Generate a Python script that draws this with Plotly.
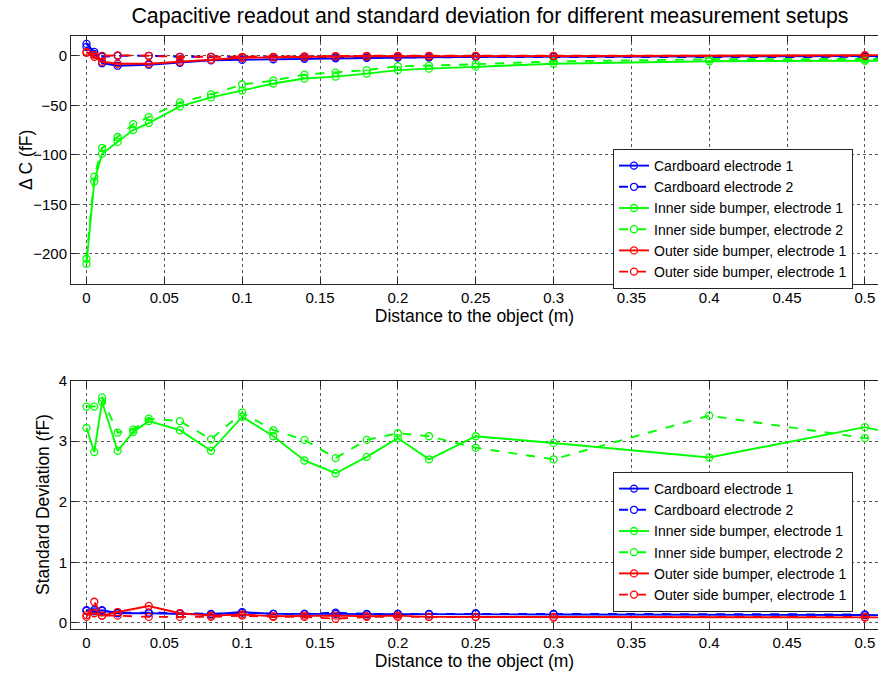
import plotly.graph_objects as go

# Measurement positions (m)
dist_cb = [0, 0.005, 0.01, 0.02, 0.04, 0.06, 0.08, 0.1, 0.12, 0.14, 0.16,
           0.18, 0.2, 0.22, 0.25, 0.3, 0.5, 0.6]
dist_in = [0, 0.005, 0.01, 0.02, 0.03, 0.04, 0.06, 0.08, 0.1, 0.12, 0.14,
           0.16, 0.18, 0.2, 0.22, 0.25, 0.3, 0.4, 0.5, 0.6]

# Capacitive readout change (fF)
dc_card1 = [12, 4, -7.5, -10, -9, -7, -4.5, -4, -3.5, -3, -2.5, -2, -1.5,
            -1.5, -1, -1, -0.5, 0]
dc_card2 = [9, 2, -1, 0, 0, -1, -1, -1.5, -1.5, -1.5, -1.5, -1.5, -1.5,
            -1.5, -1, -1, -1, -1]
dc_inner1 = [-210, -127, -99, -87, -75, -68, -51, -42, -35, -28, -23, -21,
             -18, -14.5, -13, -11, -8, -5.5, -5, -4.5]
dc_inner2 = [-205, -122, -93, -82, -69, -62, -47, -39, -29, -25, -19, -17,
             -14.5, -10.5, -10, -8.5, -5.7, -3.5, -3.5, -3]
dc_outer1 = [4, -1, -6, -8, -8, -6, -4, -2, -1.5, -1, -0.5, -0.5, -0.5,
             -0.5, -0.3, -0.3, 0.7, 0.7]
dc_outer2 = [3, 1, 0, 0.5, 0, -1, -1, -1, -1, -0.5, -0.3, 0, 0, 0, 0, 0, 0, 0]

# Standard deviation (fF)
sd_card1 = [0.21, 0.19, 0.21, 0.16, 0.16, 0.15, 0.14, 0.18, 0.15, 0.15,
            0.15, 0.14, 0.15, 0.14, 0.15, 0.14, 0.13, 0.12]
sd_card2 = [0.2, 0.22, 0.2, 0.17, 0.17, 0.16, 0.15, 0.17, 0.15, 0.15,
            0.17, 0.15, 0.15, 0.15, 0.16, 0.15, 0.14, 0.14]
sd_inner1 = [3.22, 2.82, 3.65, 2.84, 3.15, 3.33, 3.18, 2.84, 3.40, 3.08,
             2.68, 2.47, 2.74, 3.05, 2.70, 3.08, 2.97, 2.73, 3.23, 2.65]
sd_inner2 = [3.57, 3.57, 3.72, 3.14, 3.19, 3.37, 3.33, 3.03, 3.47, 3.18,
             3.02, 2.72, 3.02, 3.13, 3.08, 2.89, 2.70, 3.42, 3.05, 3.1]
sd_outer1 = [0.13, 0.16, 0.12, 0.18, 0.28, 0.16, 0.12, 0.14, 0.11, 0.12,
             0.12, 0.11, 0.12, 0.10, 0.10, 0.09, 0.09, 0.09]
sd_outer2 = [0.10, 0.35, 0.12, 0.12, 0.10, 0.10, 0.10, 0.12, 0.10, 0.10,
             0.07, 0.10, 0.10, 0.10, 0.10, 0.10, 0.10, 0.10]

names = ["Cardboard electrode 1", "Cardboard electrode 2",
         "Inner side bumper, electrode 1", "Inner side bumper, electrode 2",
         "Outer side bumper, electrode 1", "Outer side bumper, electrode 1"]
colors = ["#0000ff", "#0000ff", "#00ff00", "#00ff00", "#ff0000", "#ff0000"]
dashes = ["solid", "dash", "solid", "dash", "solid", "dash"]

x_ticks = [0, 0.05, 0.1, 0.15, 0.2, 0.25, 0.3, 0.35, 0.4, 0.45, 0.5]
x_labels = ["0", "0.05", "0.1", "0.15", "0.2", "0.25", "0.3", "0.35", "0.4",
            "0.45", "0.5"]
dc_ticks = [-200, -150, -100, -50, 0]
sd_ticks = [0, 1, 2, 3, 4]

FONT = "Liberation Sans, Arial, Helvetica, sans-serif"
W, H = 878, 675
ML = 71

top_series = [(dist_cb, dc_card1), (dist_cb, dc_card2), (dist_in, dc_inner1),
              (dist_in, dc_inner2), (dist_cb, dc_outer1), (dist_cb, dc_outer2)]
bot_series = [(dist_cb, sd_card1), (dist_cb, sd_card2), (dist_in, sd_inner1),
              (dist_in, sd_inner2), (dist_cb, sd_outer1), (dist_cb, sd_outer2)]

fig = go.Figure()
for (xs, ys), nm, c, d in zip(top_series, names, colors, dashes):
    fig.add_trace(go.Scatter(
        x=xs, y=ys, name=nm, mode="lines+markers", xaxis="x", yaxis="y",
        legend="legend",
        line=dict(color=c, width=1.9, dash=d),
        marker=dict(symbol="circle-open", size=7, color=c,
                    line=dict(width=1.3, color=c))))
for (xs, ys), nm, c, d in zip(bot_series, names, colors, dashes):
    fig.add_trace(go.Scatter(
        x=xs, y=ys, name=nm, mode="lines+markers", xaxis="x2", yaxis="y2",
        legend="legend2",
        line=dict(color=c, width=1.9, dash=d),
        marker=dict(symbol="circle-open", size=7, color=c,
                    line=dict(width=1.3, color=c))))


def ydom(top_px, bot_px):
    return [1 - bot_px / H, 1 - top_px / H]


def px_x(px):
    return (px - ML) / (W - ML)


def px_y(py):
    return 1 - py / H


axis_common = dict(
    showline=True, linecolor="#262626", linewidth=1,
    ticks="inside", ticklen=6, tickcolor="#262626",
    showgrid=True, gridcolor="#555555", griddash="dot", gridwidth=1,
    zeroline=False, automargin=False,
    tickfont=dict(family=FONT, size=15, color="#000000"),
)
x_range = [-0.00995, 0.5084]
xtitle = dict(text="Distance to the object (m)",
              font=dict(family=FONT, size=17.5), standoff=4)

legend_common = dict(
    xanchor="left", yanchor="top",
    bgcolor="white", bordercolor="#262626", borderwidth=1,
    font=dict(family=FONT, size=14, color="#000000"),
    itemwidth=30, tracegroupgap=0)

fig.update_layout(
    width=W, height=H,
    margin=dict(l=ML, r=0, t=0, b=0, pad=0),
    paper_bgcolor="white", plot_bgcolor="white",
    font=dict(family=FONT, color="#000000"),
    title=dict(
        text="Capacitive readout and standard deviation for different measurement setups",
        font=dict(family=FONT, size=21.3, color="#000000"),
        x=px_x(490), xref="paper", xanchor="center",
        y=1 - 16 / H, yref="container", yanchor="middle", automargin=False),
    xaxis=dict(**axis_common, domain=[0, 1], anchor="y", range=x_range,
               tickvals=x_ticks, ticktext=x_labels, mirror="ticks",
               title=xtitle),
    yaxis=dict(**axis_common, domain=ydom(36, 283.5), anchor="x",
               range=[-230, 20], tickvals=dc_ticks),
    xaxis2=dict(**axis_common, domain=[0, 1], anchor="y2", range=x_range,
                tickvals=x_ticks, ticktext=x_labels, mirror="ticks",
                title=xtitle),
    yaxis2=dict(**axis_common, domain=ydom(380.5, 629), anchor="x2",
                range=[-0.1, 4], tickvals=sd_ticks),
    legend=dict(**legend_common, x=px_x(613), y=px_y(149)),
    legend2=dict(**legend_common, x=px_x(613), y=px_y(472)),
    annotations=[
        dict(text="\u0394 C (fF)", textangle=-90, showarrow=False,
             xref="paper", yref="paper", x=px_x(26), y=px_y(160),
             xanchor="center", yanchor="middle",
             font=dict(family=FONT, size=17.5, color="#000000")),
        dict(text="Standard Deviation (fF)", textangle=-90, showarrow=False,
             xref="paper", yref="paper", x=px_x(43), y=px_y(505),
             xanchor="center", yanchor="middle",
             font=dict(family=FONT, size=17.5, color="#000000")),
    ],
)

fig.write_html("out.html")
